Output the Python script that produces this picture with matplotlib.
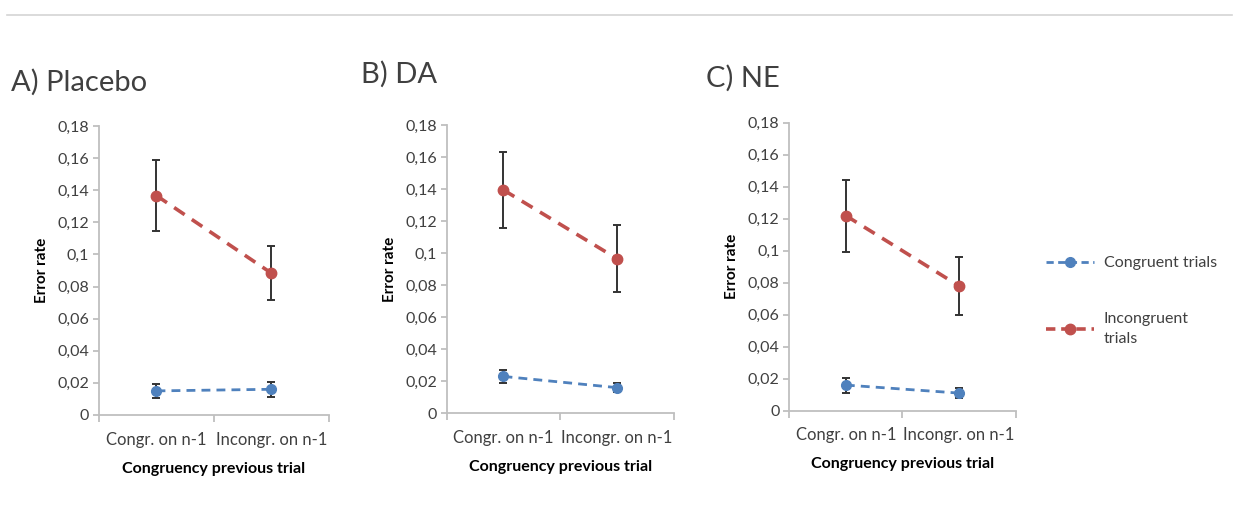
"""Error rates per congruency of the previous trial, for the three drug
conditions (Placebo, DA, NE)."""

import numpy as np
import matplotlib
matplotlib.use("Agg")
from matplotlib import pyplot as plt
from matplotlib.lines import Line2D
from matplotlib.ticker import FuncFormatter


# =============================================================================
# Data
# =============================================================================
panels = ['A) Placebo', 'B) DA', 'C) NE']
categories = ['Congr. on n-1', 'Incongr. on n-1']

congruent_mean = [[0.015, 0.016], [0.023, 0.016], [0.016, 0.011]]
congruent_err = [[0.0045, 0.0045], [0.004, 0.003], [0.0047, 0.0033]]
incongruent_mean = [[0.1366, 0.0883], [0.1394, 0.0965], [0.1219, 0.0780]]
incongruent_err = [[0.022, 0.017], [0.024, 0.021], [0.0226, 0.0183]]

yticks = [0, 0.02, 0.04, 0.06, 0.08, 0.1, 0.12, 0.14, 0.16, 0.18]


# =============================================================================
# Plot parameters
# =============================================================================
matplotlib.rcParams['font.family'] = ['Lato', 'DejaVu Sans']
text_color = '#404040'
axis_color = '#bfbfbf'
red = '#c0504d'
blue = '#4f81bd'

# Axes positions [left, bottom, width, height] in figure fraction
positions = [
    [0.0799, 0.2185, 0.1856, 0.5443],
    [0.3605, 0.2217, 0.1835, 0.5429],
    [0.6370, 0.2266, 0.1827, 0.5423],
]
title_pos = [(0.009, 0.845), (0.291, 0.860), (0.570, 0.853)]

fig = plt.figure(figsize=(12.39, 5.31), dpi=100)

# Thin grey rule at the top
fig.add_artist(Line2D([0.006, 0.994], [0.972, 0.972], color='#d4d4d4',
    linewidth=1.2, transform=fig.transFigure))

x = np.array([0.5, 1.5])
for p in range(len(panels)):
    ax = fig.add_axes(positions[p])

    ax.errorbar(x, congruent_mean[p], yerr=congruent_err[p],
        color=blue, linestyle=(0, (3.2, 2.2)), linewidth=2.0, marker='o',
        markersize=7, ecolor='#333333', elinewidth=1.4, capsize=3,
        capthick=1.4, zorder=3)
    ax.errorbar(x, incongruent_mean[p], yerr=incongruent_err[p],
        color=red, linestyle=(0, (3.5, 2.4)), linewidth=2.6, marker='o',
        markersize=7.5, ecolor='#333333', elinewidth=1.4, capsize=3,
        capthick=1.4, zorder=3)

    # Axes style
    ax.set_xlim(0, 2)
    ax.set_ylim(0, 0.18)
    for side in ['top', 'right']:
        ax.spines[side].set_visible(False)
    for side in ['left', 'bottom']:
        ax.spines[side].set_color(axis_color)
        ax.spines[side].set_linewidth(1.3)

    # y-axis parameters
    ax.set_yticks(yticks)
    ax.yaxis.set_major_formatter(FuncFormatter(
        lambda v, pos: f'{v:g}'.replace('.', ',')))
    ax.tick_params(axis='y', colors=axis_color, labelcolor=text_color,
        length=4, width=1.3, labelsize=11.5, pad=3)
    ax.set_ylabel('Error rate', fontsize=11, fontweight='bold',
        color='black', labelpad=6)

    # x-axis parameters
    ax.set_xticks(x)
    ax.set_xticklabels(categories)
    ax.set_xticks([0, 1, 2], minor=True)
    ax.tick_params(axis='x', which='major', length=0, labelsize=12,
        labelcolor=text_color, pad=12)
    ax.tick_params(axis='x', which='minor', length=5, width=1.3,
        colors=axis_color)
    ax.set_xlabel('Congruency previous trial', fontsize=11.5,
        fontweight='bold', color='black', labelpad=10)

    # Panel title
    fig.text(title_pos[p][0], title_pos[p][1], panels[p], fontsize=21,
        color=text_color, ha='left', va='center')

# Legend (line + marker only, dashes on both sides of the marker)
handles = [
    Line2D([], [], color=blue, linestyle=(0, (2.6, 1.6)), linewidth=2.0,
        marker='o', markersize=7),
    Line2D([], [], color=red, linestyle=(0, (2.6, 1.6)), linewidth=2.6,
        marker='o', markersize=7.5),
]
leg = fig.legend(handles, ['Congruent trials', 'Incongruent\ntrials'],
    loc='upper left', bbox_to_anchor=(0.833, 0.545), frameon=False,
    fontsize=11.5, handlelength=3.0, handletextpad=0.6, labelspacing=2.6,
    labelcolor=text_color)
leg.get_texts()[1].set_linespacing(1.55)

fig.savefig('out.png', dpi=100, facecolor='white')
